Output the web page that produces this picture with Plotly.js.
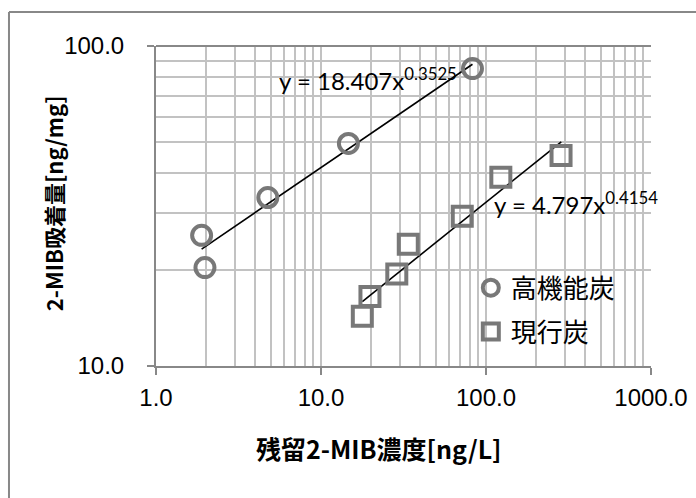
<!DOCTYPE html>
<html><head><meta charset="utf-8">
<script src="https://cdn.plot.ly/plotly-3.0.1.min.js"></script>
<style>html,body{margin:0;padding:0;background:#fff}#chart{width:696px;height:498px}</style>
</head><body><div id="chart"></div>
<script>
const seriesNames = ['高機能炭', '現行炭'];
const xHigh = [1.89, 1.98, 4.76, 14.66, 82.8];
const yHigh = [25.6, 20.3, 33.6, 49.6, 85.0];
const xCur = [17.8, 19.8, 28.8, 33.8, 71.8, 123, 285];
const yCur = [14.3, 16.5, 19.4, 24.0, 29.4, 38.9, 45.5];
const trendHighX = [1.89, 82.8];
const trendHighY = [23.2, 87.7];
const trendCurX = [17.8, 285.8];
const trendCurY = [15.9, 50.2];
const eqHigh = 'y = 18.407x<sup>0.3525</sup>';
const eqCur = 'y = 4.797x<sup>0.4154</sup>';
const xTickVals = [1, 10, 100, 1000];
const xTickText = ['1.0', '10.0', '100.0', '1000.0'];
const yTickVals = [10, 100];
const yTickText = ['10.0', '100.0'];
const xMinor = [2,3,4,5,6,7,8,9,20,30,40,50,60,70,80,90,200,300,400,500,600,700,800,900];
const yMinor = [20,30,40,50,60,70,80,90];
const xTitle = '残留2-MIB濃度[ng/L]';
const yTitle = '2-MIB吸着量[ng/mg]';

const grey = '#787878';
const gridC = '#c2c2c2';
const axisC = '#888888';
const cjk = '"Noto Sans CJK JP", sans-serif';

const traces = [
  {x: trendHighX, y: trendHighY, mode: 'lines', line: {color: '#000', width: 1.6}, showlegend: false, hoverinfo: 'skip'},
  {x: trendCurX, y: trendCurY, mode: 'lines', line: {color: '#000', width: 1.6}, showlegend: false, hoverinfo: 'skip'},
  {x: xHigh, y: yHigh, name: seriesNames[0], legendgroup: 'a', mode: 'markers', type: 'scatter',
   marker: {symbol: 'circle-open', size: 19, color: grey, line: {color: grey, width: 4}}},
  {x: xCur, y: yCur, name: seriesNames[1], legendgroup: 'b', mode: 'markers', type: 'scatter',
   marker: {symbol: 'square-open', size: 19, color: grey, line: {color: grey, width: 4}}}
];

const axisCommon = {
  type: 'log', showline: true, linecolor: axisC, linewidth: 2,
  ticks: 'outside', ticklen: 7, tickwidth: 2, tickcolor: axisC,
  showgrid: true, gridcolor: gridC, gridwidth: 2, zeroline: false,
  tickfont: {family: '"Liberation Sans", Arial, sans-serif', size: 24, color: '#000'},
  tickmode: 'array', fixedrange: true
};

const layout = {
  width: 696, height: 498,
  margin: {l: 156, r: 45, t: 46, b: 132},
  paper_bgcolor: '#fff', plot_bgcolor: '#fff',
  showlegend: true,
  xaxis: Object.assign({}, axisCommon, {range: [0, 3], tickvals: xTickVals, ticktext: xTickText, ticklabelstandoff: 2,
    minor: {tickmode: 'array', tickvals: xMinor, showgrid: true, gridcolor: gridC, gridwidth: 2, ticks: ''}}),
  yaxis: Object.assign({}, axisCommon, {range: [1, 2], tickvals: yTickVals, ticktext: yTickText, ticklabelstandoff: 18,
    minor: {tickmode: 'array', tickvals: yMinor, showgrid: true, gridcolor: gridC, gridwidth: 2, ticks: ''}}),
  legend: {x: 0.636, y: 0.318, xanchor: 'left', yanchor: 'top', bgcolor: 'rgba(0,0,0,0)',
    font: {family: cjk, size: 26, color: '#000'}, traceorder: 'grouped', tracegroupgap: 7, itemwidth: 30},
  annotations: [
    {text: eqHigh, xref: 'paper', yref: 'paper', x: 0.2444, y: 0.897, xanchor: 'left', yanchor: 'middle',
     showarrow: false, font: {family: 'Lato, sans-serif', size: 24, color: '#000'}},
    {text: eqCur, xref: 'paper', yref: 'paper', x: 0.679, y: 0.509, xanchor: 'left', yanchor: 'middle',
     showarrow: false, font: {family: 'Lato, sans-serif', size: 24, color: '#000'}},
    {text: '<b>' + xTitle + '</b>', xref: 'paper', yref: 'paper', x: 0.4505, y: -0.256, xanchor: 'center', yanchor: 'middle',
     showarrow: false, font: {family: cjk, size: 25, color: '#000'}},
    {text: '<b>' + yTitle + '</b>', xref: 'paper', yref: 'paper', x: -0.208, y: 0.509, xanchor: 'center', yanchor: 'middle',
     textangle: -90, showarrow: false, font: {family: cjk, size: 22, color: '#000'}}
  ],
  shapes: [
    {type: 'line', xref: 'paper', yref: 'paper', x0: 0, x1: 1, y0: 1, y1: 1, line: {color: axisC, width: 2}},
    {type: 'line', xref: 'paper', yref: 'paper', x0: -0.297, x1: -0.297, y0: -1, y1: 1.106, line: {color: axisC, width: 2}},
    {type: 'line', xref: 'paper', yref: 'paper', x0: -0.297, x1: 2, y0: 1.106, y1: 1.106, line: {color: axisC, width: 2}}
  ]
};

Plotly.newPlot('chart', traces, layout, {displayModeBar: false, staticPlot: true});
</script>
</body></html>
